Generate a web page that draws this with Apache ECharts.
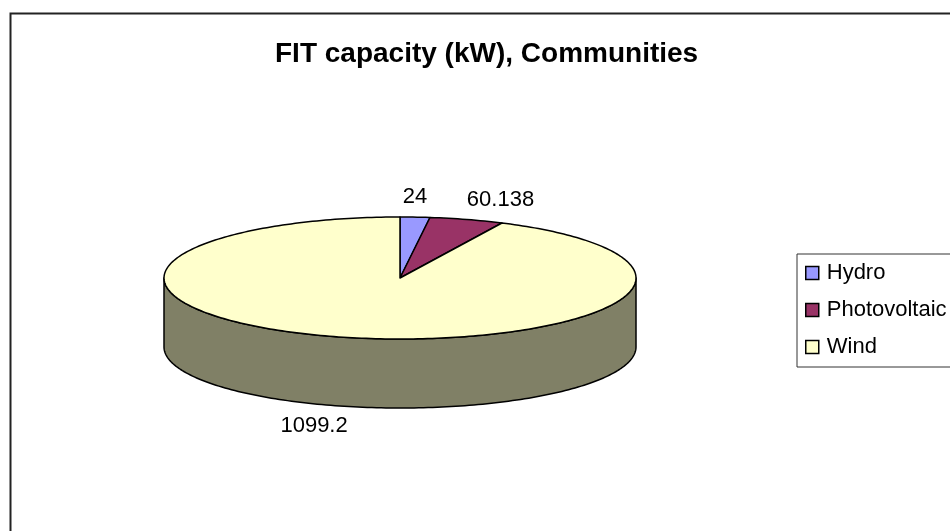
<!DOCTYPE html>
<html>
<head>
<meta charset="utf-8">
<script src="https://cdn.jsdelivr.net/npm/echarts@6/dist/echarts.min.js"></script>
<style>
  html, body { margin: 0; padding: 0; background: #fff; }
  #chartmain { width: 950px; height: 531px; }
</style>
</head>
<body>
<div id="chartmain"></div>
<script>
// data
var categories = ['Hydro', 'Photovoltaic', 'Wind'];
var values = [24, 60.138, 1099.2];
var labels = ['24', '60.138', '1099.2'];
var colors = ['#9999FF', '#993366', '#FFFFCC'];
var wallColors = ['#4d4d80', '#4d1a33', '#808066'];

var FONT = '"Liberation Sans", Arial, sans-serif';

function setChartMain() {
    var total = 0;
    for (var i = 0; i < values.length; i++) total += values[i];

    // 3d pie geometry
    var cx = 400, cy = 278, rx = 236, ry = 61, depth = 69;

    function pt(a, dy) {
        return [cx + rx * Math.sin(a), cy - ry * Math.cos(a) + (dy || 0)];
    }
    function arc(a0, a1, dy) {
        var pts = [];
        var n = Math.max(2, Math.ceil((a1 - a0) / 0.02));
        for (var k = 0; k <= n; k++) pts.push(pt(a0 + (a1 - a0) * k / n, dy));
        return pts;
    }

    function makeRender(idx) {
        return function (params, api) {
            var before = 0;
            for (var j = 0; j < idx; j++) before += values[j];
            var v = api.value(0);
            var a0 = before / total * Math.PI * 2;
            var a1 = (before + v) / total * Math.PI * 2;
            var children = [];
            // side wall (front half only)
            var w0 = Math.max(a0, Math.PI / 2), w1 = Math.min(a1, Math.PI * 1.5);
            if (w1 > w0) {
                var up = arc(w0, w1, 0);
                var down = arc(w0, w1, depth).reverse();
                children.push({
                    type: 'polygon',
                    z2: 1,
                    shape: { points: up.concat(down) },
                    style: { fill: wallColors[idx], stroke: '#000', lineWidth: 1.5, lineJoin: 'round' }
                });
            }
            // top
            children.push({
                type: 'polygon',
                z2: 2,
                shape: { points: [[cx, cy]].concat(arc(a0, a1, 0)) },
                style: { fill: colors[idx], stroke: '#000', lineWidth: 1.5, lineJoin: 'round' }
            });
            // label outside the slice
            var m = (a0 + a1) / 2;
            var s = Math.sin(m), c = Math.cos(m);
            var lx = cx + rx * s;
            var ly = cy - (ry + 20) * c + (c < 0 ? depth : 0);
            var align = 'center';
            if (Math.abs(s) > 0.15) align = s > 0 ? 'left' : 'right';
            children.push({
                type: 'text',
                z2: 3,
                style: {
                    text: labels[idx], x: lx, y: ly, fill: '#000',
                    font: '22px ' + FONT, align: align, verticalAlign: 'middle'
                }
            });
            return { type: 'group', children: children };
        };
    }

    var series = [];
    for (var i = 0; i < categories.length; i++) {
        series.push({
            name: categories[i],
            type: 'custom',
            coordinateSystem: 'none',
            itemStyle: { color: colors[i] },
            renderItem: makeRender(i),
            data: [[values[i]]],
            animation: false
        });
    }

    var option = {
        backgroundColor: '#fff',
        animation: false,
        title: {
            text: 'FIT capacity (kW), Communities',
            left: 275,
            top: 40,
            padding: 0,
            textStyle: { fontFamily: FONT, fontSize: 28, fontWeight: 'bold', color: '#000' }
        },
        legend: {
            data: categories,
            orient: 'vertical',
            left: 797,
            top: 254,
            padding: [8, 60, 9, 8],
            itemGap: 15,
            itemWidth: 13,
            itemHeight: 13,
            icon: 'rect',
            borderColor: '#333',
            borderWidth: 1,
            itemStyle: { borderColor: '#000', borderWidth: 1.5 },
            textStyle: { fontFamily: FONT, fontSize: 22, lineHeight: 22, color: '#000', padding: [0, 0, 0, 3] }
        },
        graphic: [{
            type: 'rect',
            left: 8,
            top: 11,
            shape: { width: 980, height: 560 },
            style: { fill: 'none', stroke: '#222', lineWidth: 2 },
            silent: true
        }],
        series: series
    };
    var myChart = echarts.init(document.getElementById('chartmain'));
    myChart.setOption(option);
}
setChartMain();
</script>
</body>
</html>
